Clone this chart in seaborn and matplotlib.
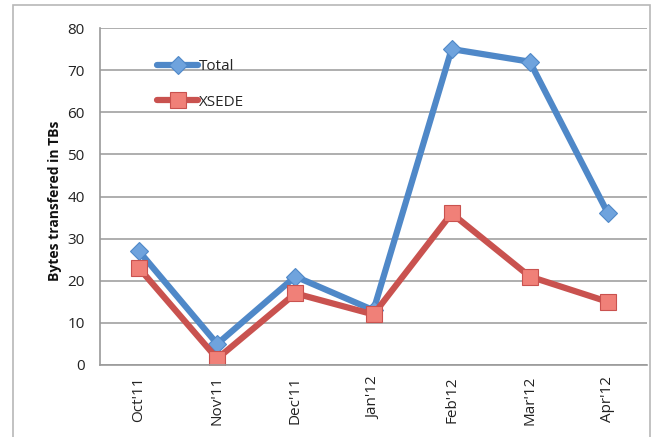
import matplotlib
matplotlib.use("Agg")
import matplotlib.pyplot as plt
import seaborn as sns
import pandas as pd
from matplotlib.patches import Rectangle

months = ["Oct'11", "Nov'11", "Dec'11", "Jan'12", "Feb'12", "Mar'12", "Apr'12"]
total = [27, 5, 21, 13, 75, 72, 36]
xsede = [23, 1.5, 17, 12, 36, 21, 15]
series_names = ["Total", "XSEDE"]

df = pd.DataFrame({
    "month": months * 2,
    "value": total + xsede,
    "series": [series_names[0]] * len(months) + [series_names[1]] * len(months),
})

sns.set_theme(style="white")
plt.rcParams["font.family"] = ["Open Sans", "DejaVu Sans"]

fig = plt.figure(figsize=(6.52, 4.37), dpi=100)
ax = fig.add_axes([100 / 652, 1 - 365 / 437, 547 / 652, 337 / 437])

line_colors = {"Total": "#4F88C8", "XSEDE": "#C9524F"}
marker_face = {"Total": "#6FA3DD", "XSEDE": "#F08078"}
sns.lineplot(data=df, x="month", y="value", hue="series", style="series",
             palette=line_colors, markers={"Total": "D", "XSEDE": "s"},
             dashes=False, sort=False, linewidth=4.5, ax=ax, legend=False)

sizes = {"Total": 9, "XSEDE": 11}
for ln, name in zip(ax.get_lines(), series_names):
    ln.set_markerfacecolor(marker_face[name])
    ln.set_markeredgecolor(line_colors[name])
    ln.set_markeredgewidth(0.8)
    ln.set_markersize(sizes[name])
    ln.set_solid_joinstyle("round")
    ln.set_label(name)

ax.set_xlim(-0.5, len(months) - 0.5)
ax.set_ylim(0, 80)
ax.set_yticks(range(0, 81, 10))
ax.set_xticks(range(len(months)))
ax.set_xticklabels(months, rotation=90, fontsize=11, color="#222222")
ax.set_xticks([i - 0.5 for i in range(len(months) + 1)], minor=True)
ax.tick_params(axis="x", which="major", length=0, pad=8)
ax.tick_params(axis="x", which="minor", length=5, width=1, color="#9A9A9A", direction="out")
ax.tick_params(axis="y", which="major", length=5, width=1, color="#9A9A9A",
               direction="out", labelsize=11, labelcolor="#222222", pad=6)
ax.yaxis.grid(True, color="#A8A8A8", linewidth=1.3)
ax.set_axisbelow(True)
for s in ["top", "right"]:
    ax.spines[s].set_visible(False)
for s in ["left", "bottom"]:
    ax.spines[s].set_color("#9A9A9A")
    ax.spines[s].set_linewidth(1.2)
ax.set_xlabel("")
ax.set_ylabel("Bytes transfered in TBs", fontsize=10, fontweight="bold", color="#111111", labelpad=4)
ax.yaxis.label.set_y(0.487)

leg = fig.legend(handles=ax.get_lines(), labels=series_names, loc="upper left",
                 bbox_to_anchor=(157 / 652, 1 - 59 / 437), frameon=False,
                 fontsize=11, handlelength=2.7, handletextpad=0.05,
                 labelspacing=1.35, borderpad=0, borderaxespad=0)

fig.patches.append(Rectangle((13 / 652, -0.05), (650 - 13) / 652, 1.05 - 5 / 437,
                             transform=fig.transFigure, fill=False,
                             edgecolor="#B8B8B8", linewidth=1.2))

fig.savefig("out.png", dpi=100)
